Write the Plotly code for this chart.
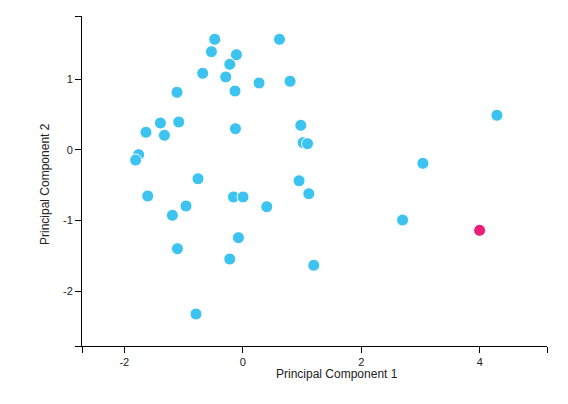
import plotly.graph_objects as go

pc1 = [-0.474, -0.530, -0.108, -0.221, 0.618, -0.677, -0.289, -0.132, 0.274, 0.797,
       -1.111, -1.391, -1.082, -1.635, -1.324, -0.125, 0.978, 1.017, 1.091, -1.758,
       -1.809, -0.757, -1.606, -0.159, 0.003, -0.959, 0.404, -1.189, 0.949, 1.113,
       2.695, 3.038, 4.287, -0.074, -1.104, -0.221, 1.197, -0.790]
pc2 = [1.565, 1.390, 1.347, 1.211, 1.565, 1.084, 1.032, 0.833, 0.947, 0.971,
       0.815, 0.381, 0.395, 0.249, 0.207, 0.300, 0.348, 0.102, 0.088, -0.068,
       -0.143, -0.408, -0.652, -0.666, -0.666, -0.794, -0.804, -0.925, -0.436, -0.620,
       -0.992, -0.190, 0.490, -1.242, -1.398, -1.544, -1.633, -2.322]
hl_pc1 = [3.995]
hl_pc2 = [-1.138]

x_range = [-2.714, 5.132]
y_range = [-2.775, 1.895]
x_ticks = [-2, 0, 2, 4]
y_ticks = [-2, -1, 0, 1]

blue = "#3DC3EF"
pink = "#EC1E79"

fig = go.Figure()
fig.add_trace(go.Scatter(x=pc1, y=pc2, mode="markers",
                         marker=dict(size=12, color=blue, line=dict(color="white", width=1))))
fig.add_trace(go.Scatter(x=hl_pc1, y=hl_pc2, mode="markers",
                         marker=dict(size=12, color=pink, line=dict(color="white", width=1))))

def axis(rng, ticks):
    vals = [rng[0]] + ticks + [rng[1]]
    text = [""] + [str(t) for t in ticks] + [""]
    return dict(range=rng, tickvals=vals, ticktext=text, ticks="outside", ticklen=6,
                tickwidth=1, tickcolor="black", showline=True, linecolor="black",
                linewidth=1, showgrid=False, zeroline=False,
                tickfont=dict(family="Arial, Liberation Sans", size=11, color="#222"))

# page body has an 8px margin, so the figure is sized and placed to compensate
fig.update_layout(
    width=560, height=396,
    margin=dict(l=74, r=21, t=8, b=58),
    plot_bgcolor="white", paper_bgcolor="white",
    showlegend=False,
    xaxis=axis(x_range, x_ticks),
    yaxis=axis(y_range, y_ticks),
    annotations=[
        dict(text="Principal Component 1", xref="paper", yref="paper",
             x=(337 - 82) / 465, y=-(374 - 346) / 330, showarrow=False,
             xanchor="center", yanchor="middle",
             font=dict(family="Arial, Liberation Sans", size=12, color="#222")),
        dict(text="Principal Component 2", xref="paper", yref="paper",
             x=-(82 - 45) / 465, y=(346 - 184) / 330, showarrow=False, textangle=-90,
             xanchor="center", yanchor="middle",
             font=dict(family="Arial, Liberation Sans", size=12, color="#222")),
    ],
)

fig.write_html("out.html")
